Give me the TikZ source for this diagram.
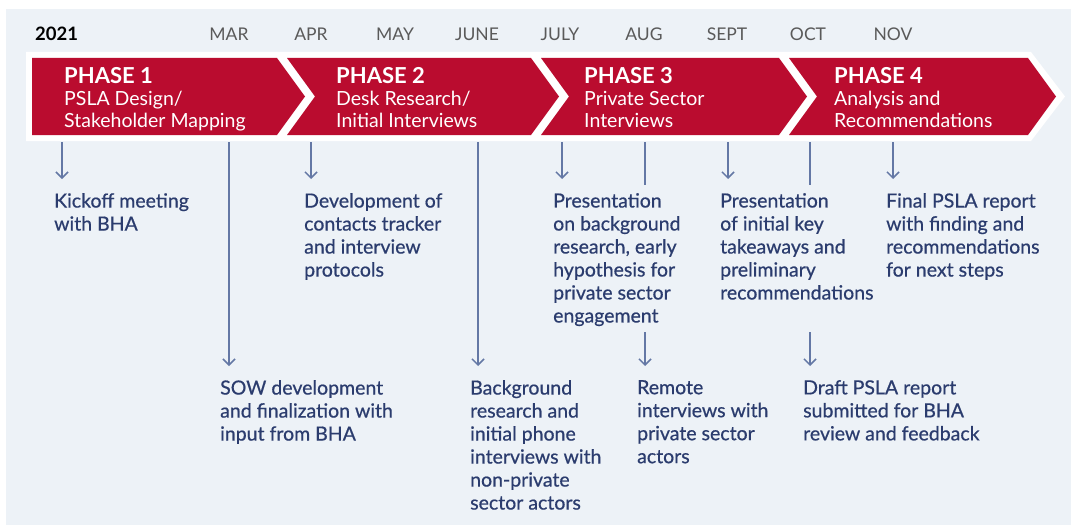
\documentclass[tikz,border=0pt]{standalone}
\usepackage{fontspec}
\setmainfont{Lato}
\newfontfamily\bodyfont{Lato}[FakeBold=0.6]
\usetikzlibrary{arrows.meta}

\definecolor{panel}{HTML}{EDF2F7}
\definecolor{phasered}{HTML}{BA0C2F}
\definecolor{navy}{HTML}{2B3C6E}
\definecolor{linkblue}{HTML}{6478A5}
\definecolor{monthgrey}{HTML}{5A5A5A}

\begin{document}
\begin{tikzpicture}[x=1pt,y=-1pt,
  evt/.style={anchor=north west, inner xsep=0pt, inner ysep=14pt, align=left,
    text=navy, font=\bodyfont\fontsize{19.5}{23}\selectfont},
  month/.style={anchor=base, inner sep=0pt, text=monthgrey,
    font=\fontsize{17.5}{20}\selectfont},
  phase/.style={anchor=north west, inner sep=0pt, align=left, text=white,
    font=\fontsize{19.5}{22}\selectfont},
  chev/.style={fill=phasered},
  link/.style={draw=linkblue, line width=1.5pt},
  arr/.style={link, -{Straight Barb[length=6pt,width=12pt]}},
]
% page and panel
\useasboundingbox (0,0) rectangle (1071,527);
\fill[white] (0,0) rectangle (1071,527);
\fill[panel] (6,9) rectangle (1071,525);

% year and months
\node[anchor=base west, inner sep=0pt, font=\fontsize{18.5}{20}\selectfont\bfseries] (year) at (35,41) {2021};
\node[month] (mar)  at (229,41) {MAR};
\node[month] (apr)  at (311,41) {APR};
\node[month] (may)  at (395,41) {MAY};
\node[month] (jun)  at (477,41) {JUNE};
\node[month] (jul)  at (560,41) {JULY};
\node[month] (aug)  at (644,41) {AUG};
\node[month] (sep)  at (727,41) {SEPT};
\node[month] (oct)  at (808,41) {OCT};
\node[month] (nov)  at (893,41) {NOV};

% white band behind the phase arrows
\fill[white] (26,52) -- (1031,52) -- (1065,96.5) -- (1031,141) -- (26,141) -- cycle;

% phase chevrons
\fill[chev] (32,58) -- (277,58) -- (305,96.5) -- (277,135) -- (32,135) -- cycle;
\fill[chev] (287,58) -- (531,58) -- (559,96.5) -- (531,135) -- (287,135) -- (315,96.5) -- cycle;
\fill[chev] (541,58) -- (779,58) -- (807,96.5) -- (779,135) -- (541,135) -- (569,96.5) -- cycle;
\fill[chev] (789,58) -- (1028,58) -- (1056,96.5) -- (1028,135) -- (789,135) -- (817,96.5) -- cycle;

\node[phase] (ph1) at (64,67)  {{\fontsize{22}{22}\selectfont\bfseries PHASE 1}\\PSLA Design/\\Stakeholder Mapping};
\node[phase] (ph2) at (336,67) {{\fontsize{22}{22}\selectfont\bfseries PHASE 2}\\Desk Research/\\Initial Interviews};
\node[phase] (ph3) at (584,67) {{\fontsize{22}{22}\selectfont\bfseries PHASE 3}\\Private Sector\\Interviews};
\node[phase] (ph4) at (834,67) {{\fontsize{22}{22}\selectfont\bfseries PHASE 4}\\Analysis and\\Recommendations};

% milestones, upper row
\node[evt] (kick)  at (54,179)  {Kickoff meeting\\with BHA};
\node[evt] (dev)   at (304,179) {Development of\\contacts tracker\\and interview\\protocols};
\node[evt] (pres1) at (553,179) {Presentation\\on background\\research, early\\hypothesis for\\private sector\\engagement};
\node[evt] (pres2) at (720,179) {Presentation\\of initial key\\takeaways and\\preliminary\\recommendations};
\node[evt] (final) at (886,179) {Final PSLA report\\with finding and\\recommendations\\for next steps};

% milestones, lower row
\node[evt] (sow)    at (220,366) {SOW development\\and finalization with\\input from BHA};
\node[evt] (bg)     at (470,366) {Background\\research and\\initial phone\\interviews with\\non-private\\sector actors};
\node[evt] (remote) at (637,366) {Remote\\interviews with\\private sector\\actors};
\node[evt] (draft)  at (803,366) {Draft PSLA report\\submitted for BHA\\review and feedback};

% connector origins below the phase band
\coordinate (kickTop)  at (62,142);
\coordinate (sowTop)   at (229,142);
\coordinate (devTop)   at (311,142);
\coordinate (bgTop)    at (478,142);
\coordinate (pres1Top) at (562,142);
\coordinate (remTop)   at (645,142);
\coordinate (pres2Top) at (728,142);
\coordinate (draftTop) at (810,142);
\coordinate (finalTop) at (893,142);

% breaks where the long lines pass behind the presentation texts
\coordinate (remCut)      at (645,185);
\coordinate (remResume)   at (645,332);
\coordinate (draftCut)    at (810,185);
\coordinate (draftResume) at (810,332);

% connectors
\draw[arr] (kickTop)  -- (kickTop |- kick.north);
\draw[arr] (devTop)   -- (devTop |- dev.north);
\draw[arr] (pres1Top) -- (pres1Top |- pres1.north);
\draw[arr] (pres2Top) -- (pres2Top |- pres2.north);
\draw[arr] (finalTop) -- (finalTop |- final.north);
\draw[arr] (sowTop)   -- (sowTop |- sow.north);
\draw[arr] (bgTop)    -- (bgTop |- bg.north);
\draw[link] (remTop) -- (remCut);
\draw[arr] (remResume) -- (remResume |- remote.north);
\draw[link] (draftTop) -- (draftCut);
\draw[arr] (draftResume) -- (draftResume |- draft.north);
\end{tikzpicture}
\end{document}
